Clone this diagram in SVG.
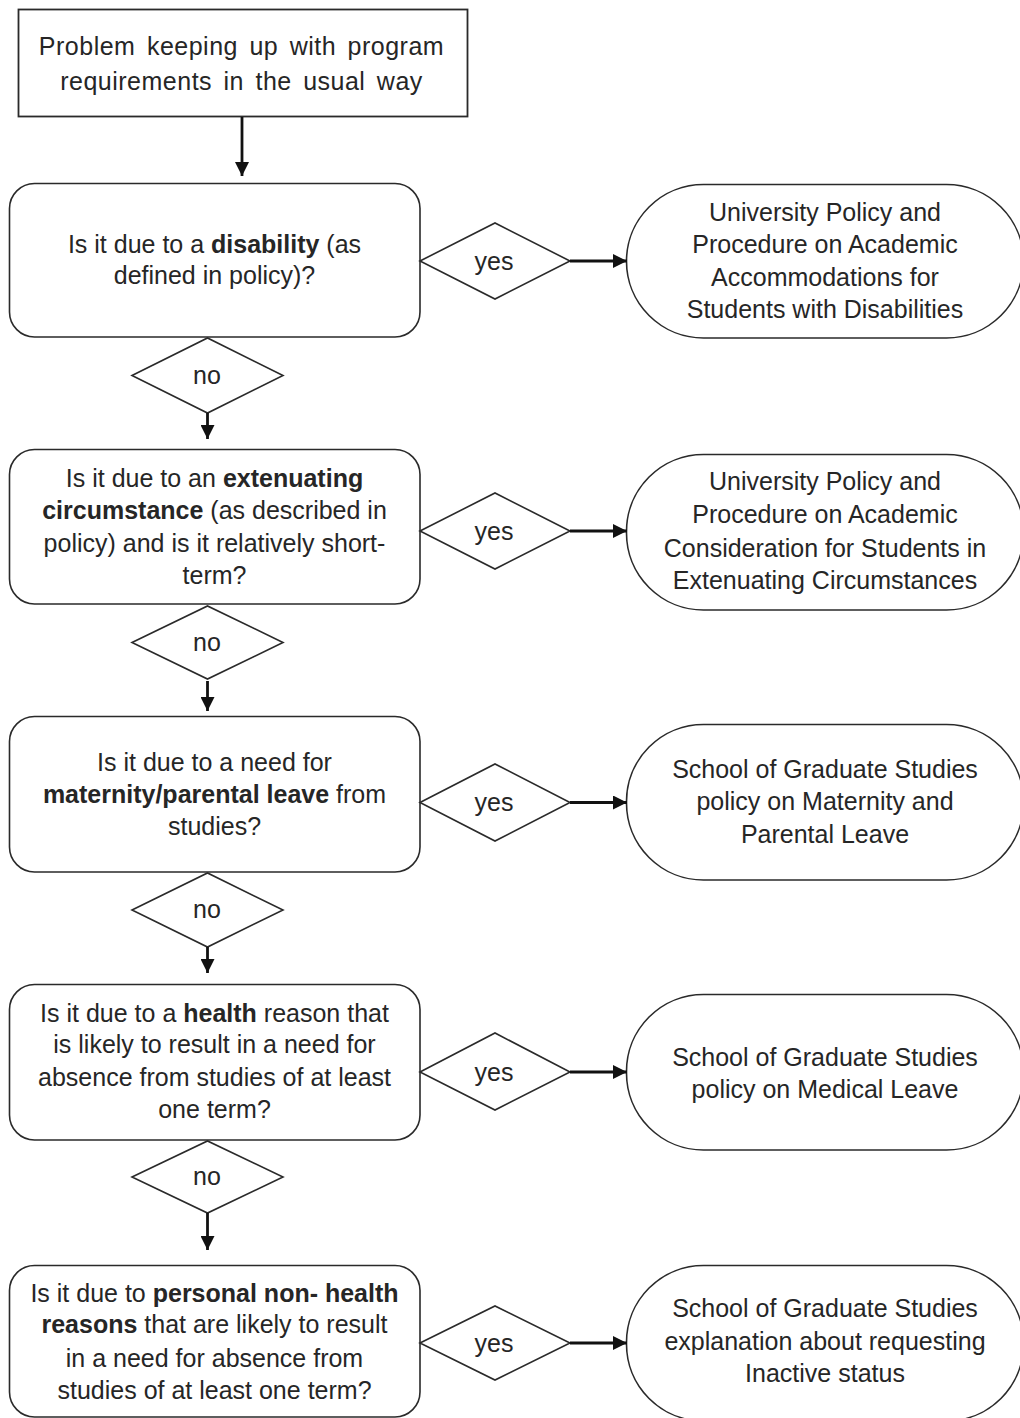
<svg xmlns="http://www.w3.org/2000/svg" width="1020" height="1418" viewBox="0 0 1020 1418">
<style>
  .shape { fill: #ffffff; stroke: #2a2a2a; stroke-width: 1.6; }
  .txt { font-family: "Liberation Sans", Arial, sans-serif; font-size: 25px; fill: #262626; text-anchor: middle; }
  .top { font-size: 25px; word-spacing: 4px; letter-spacing: 0.5px; }
  .b { font-weight: bold; }
  .conn { stroke: #111111; stroke-width: 2.8; fill: none; }
</style>
<defs>
  <marker id="ah" viewBox="0 0 10 10" refX="10" refY="5" markerWidth="5" markerHeight="5" orient="auto" markerUnits="strokeWidth">
    <path d="M0,0 L10,5 L0,10 z" fill="#111111"/>
  </marker>
</defs>
<rect width="1020" height="1418" fill="#ffffff"/>

<g id="start">
  <rect class="shape" x="18.5" y="9.5" width="449" height="107" style="stroke-width:1.8"/>
  <text class="txt top" x="241.5" y="55">Problem keeping up with program</text>
  <text class="txt top" x="241.5" y="90">requirements in the usual way</text>
</g>

<g id="q1">
  <rect class="shape" x="9.5" y="183.5" width="410.5" height="153.5" rx="25" ry="25"/>
  <text class="txt" x="214.5" y="253">Is it due to a <tspan class="b">disability</tspan> (as</text>
  <text class="txt" x="214.5" y="284">defined in policy)?</text>
</g>
<g id="yes1">
  <polygon class="shape" points="420,261 495,223 570,261 495,299"/>
  <text class="txt" x="494" y="270">yes</text>
</g>
<g id="r1">
  <rect class="shape" x="626.5" y="184.5" width="397" height="153.5" rx="77" ry="77"/>
  <text class="txt" x="825" y="221">University Policy and</text>
  <text class="txt" x="825" y="253">Procedure on Academic</text>
  <text class="txt" x="825" y="286">Accommodations for</text>
  <text class="txt" x="825" y="318">Students with Disabilities</text>
</g>
<g id="no1">
  <polygon class="shape" points="132,375.5 207.5,338 283,375.5 207.5,413"/>
  <text class="txt" x="207" y="384">no</text>
</g>

<g id="q2">
  <rect class="shape" x="9.5" y="449.5" width="410.5" height="154.5" rx="25" ry="25"/>
  <text class="txt" x="214.5" y="487">Is it due to an <tspan class="b">extenuating</tspan></text>
  <text class="txt" x="214.5" y="519"><tspan class="b">circumstance</tspan> (as described in</text>
  <text class="txt" x="214.5" y="552">policy) and is it relatively short-</text>
  <text class="txt" x="214.5" y="584">term?</text>
</g>
<g id="yes2">
  <polygon class="shape" points="420,531 495,493 570,531 495,569"/>
  <text class="txt" x="494" y="540">yes</text>
</g>
<g id="r2">
  <rect class="shape" x="626.5" y="454.5" width="397" height="155.5" rx="77" ry="77"/>
  <text class="txt" x="825" y="490">University Policy and</text>
  <text class="txt" x="825" y="523">Procedure on Academic</text>
  <text class="txt" x="825" y="557">Consideration for Students in</text>
  <text class="txt" x="825" y="589">Extenuating Circumstances</text>
</g>
<g id="no2">
  <polygon class="shape" points="132,642.5 207.5,606 283,642.5 207.5,679"/>
  <text class="txt" x="207" y="651">no</text>
</g>

<g id="q3">
  <rect class="shape" x="9.5" y="716.5" width="410.5" height="155.5" rx="25" ry="25"/>
  <text class="txt" x="214.5" y="771">Is it due to a need for</text>
  <text class="txt" x="214.5" y="803"><tspan class="b">maternity/parental leave</tspan> from</text>
  <text class="txt" x="214.5" y="835">studies?</text>
</g>
<g id="yes3">
  <polygon class="shape" points="420,802.5 495,764 570,802.5 495,841"/>
  <text class="txt" x="494" y="811">yes</text>
</g>
<g id="r3">
  <rect class="shape" x="626.5" y="724.5" width="397" height="155.5" rx="77" ry="77"/>
  <text class="txt" x="825" y="778">School of Graduate Studies</text>
  <text class="txt" x="825" y="810">policy on Maternity and</text>
  <text class="txt" x="825" y="843">Parental Leave</text>
</g>
<g id="no3">
  <polygon class="shape" points="132,910 207.5,873 283,910 207.5,947"/>
  <text class="txt" x="207" y="918">no</text>
</g>

<g id="q4">
  <rect class="shape" x="9.5" y="984.5" width="410.5" height="155.5" rx="25" ry="25"/>
  <text class="txt" x="214.5" y="1022">Is it due to a <tspan class="b">health</tspan> reason that</text>
  <text class="txt" x="214.5" y="1053">is likely to result in a need for</text>
  <text class="txt" x="214.5" y="1086">absence from studies of at least</text>
  <text class="txt" x="214.5" y="1118">one term?</text>
</g>
<g id="yes4">
  <polygon class="shape" points="420,1072 495,1033 570,1072 495,1110"/>
  <text class="txt" x="494" y="1081">yes</text>
</g>
<g id="r4">
  <rect class="shape" x="626.5" y="994.5" width="397" height="155.5" rx="77" ry="77"/>
  <text class="txt" x="825" y="1066">School of Graduate Studies</text>
  <text class="txt" x="825" y="1098">policy on Medical Leave</text>
</g>
<g id="no4">
  <polygon class="shape" points="132,1177 207.5,1141 283,1177 207.5,1213"/>
  <text class="txt" x="207" y="1185">no</text>
</g>

<g id="q5">
  <rect class="shape" x="9.5" y="1265.5" width="410.5" height="151.5" rx="25" ry="25"/>
  <text class="txt" x="214.5" y="1302">Is it due to <tspan class="b">personal non- health</tspan></text>
  <text class="txt" x="214.5" y="1333"><tspan class="b">reasons</tspan> that are likely to result</text>
  <text class="txt" x="214.5" y="1367">in a need for absence from</text>
  <text class="txt" x="214.5" y="1399">studies of at least one term?</text>
</g>
<g id="yes5">
  <polygon class="shape" points="420,1343 495,1306 570,1343 495,1380"/>
  <text class="txt" x="494" y="1352">yes</text>
</g>
<g id="r5">
  <rect class="shape" x="626.5" y="1265.5" width="397" height="155.5" rx="77" ry="77"/>
  <text class="txt" x="825" y="1317">School of Graduate Studies</text>
  <text class="txt" x="825" y="1350">explanation about requesting</text>
  <text class="txt" x="825" y="1382">Inactive status</text>
</g>

<g id="connectors">
  <line class="conn" x1="242" y1="117" x2="242" y2="176" marker-end="url(#ah)"/>
  <line class="conn" x1="207.5" y1="413" x2="207.5" y2="439" marker-end="url(#ah)"/>
  <line class="conn" x1="207.5" y1="681" x2="207.5" y2="711" marker-end="url(#ah)"/>
  <line class="conn" x1="207.5" y1="947" x2="207.5" y2="973" marker-end="url(#ah)"/>
  <line class="conn" x1="207.5" y1="1213" x2="207.5" y2="1250" marker-end="url(#ah)"/>
  <line class="conn" x1="570" y1="261" x2="627" y2="261" marker-end="url(#ah)"/>
  <line class="conn" x1="570" y1="531" x2="627" y2="531" marker-end="url(#ah)"/>
  <line class="conn" x1="570" y1="802.5" x2="627" y2="802.5" marker-end="url(#ah)"/>
  <line class="conn" x1="570" y1="1072" x2="627" y2="1072" marker-end="url(#ah)"/>
  <line class="conn" x1="570" y1="1343" x2="627" y2="1343" marker-end="url(#ah)"/>
</g>
</svg>
